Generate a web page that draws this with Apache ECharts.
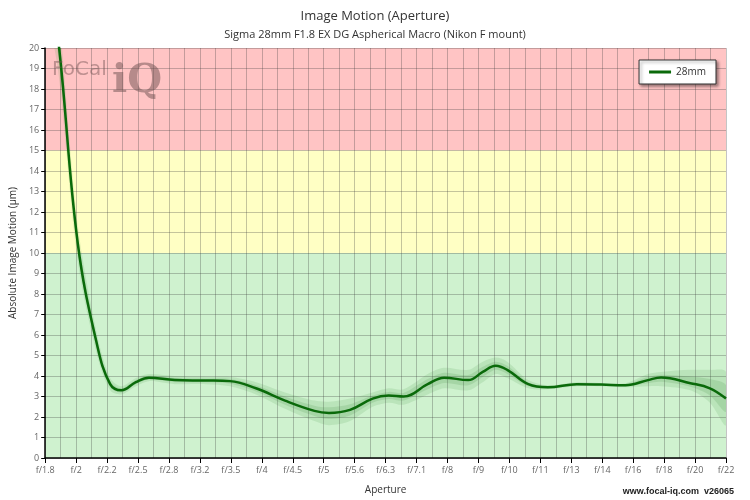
<!DOCTYPE html>
<html>
<head>
<meta charset="utf-8">
<script src="https://cdn.jsdelivr.net/npm/echarts@6/dist/echarts.min.js"></script>
<style>html,body{margin:0;padding:0;background:#fff}#chart{width:750px;height:500px}</style>
</head>
<body>
<div id="chart"></div>
<script>
var apertures = ["f/1.8","f/2","f/2.2","f/2.5","f/2.8","f/3.2","f/3.5","f/4","f/4.5","f/5","f/5.6","f/6.3","f/7.1","f/8","f/9","f/10","f/11","f/13","f/14","f/16","f/18","f/20","f/22"];
// positions along the aperture axis (0 = f/1.8) and measured motion
var pos    = [0,   0.45, 1.05, 1.68, 2.1, 2.46, 2.93, 3.35, 4.19, 5.19, 5.97, 6.81, 7.75, 8.7, 9.17, 9.85, 10.58, 11.1, 11.58, 12.36, 12.89, 13.67, 14.14, 14.56, 14.93, 15.61, 16.24, 17.18, 17.97, 18.75, 19.48, 19.9, 20.85, 21.48, 22];
var motion = [25,  20,   10.5, 5.5,  3.6, 3.3,  3.7,  3.92, 3.8,  3.78, 3.75, 3.4,  2.8,  2.3, 2.2,  2.35, 2.9,   3.05, 3.0,   3.6,   3.92,  3.8,   4.2,   4.5,   4.3,   3.6,   3.45,  3.6,   3.58,  3.55,  3.8,   3.93, 3.65,  3.4,   2.9];
var outerLow = [23, 18.5, 9.6, 5.0, 3.3, 3.1, 3.5, 3.75, 3.6, 3.6, 3.5, 3.1, 2.4, 1.8, 1.6, 1.8, 2.5, 2.7, 2.6, 3.1, 3.4, 3.3, 3.7, 4.1, 3.9, 3.4, 3.35, 3.5, 3.5, 3.45, 3.5, 3.5, 3.3, 2.7, 1.6];
var outerHigh = [27, 21.5, 11.4, 6.0, 3.9, 3.5, 3.9, 4.1, 4.0, 3.95, 3.95, 3.7, 3.2, 2.8, 2.75, 2.9, 3.2, 3.4, 3.35, 4.1, 4.4, 4.3, 4.7, 4.9, 4.7, 3.8, 3.55, 3.7, 3.65, 3.65, 4.1, 4.2, 4.3, 4.3, 4.2];
var yTicks = [0, 20, 1];

function pts(arr) { return pos.map(function (p, i) { return [p, arr[i]]; }); }
function mid(a, t) { return motion.map(function (v, i) { return v + (a[i] - v) * t; }); }

function bandSeries(low, high, color) {
	return {
		type: "custom", silent: true, z: 1, data: [0],
		renderItem: function (params, api) {
			var up = pos.map(function (p, i) { return api.coord([p, high[i]]); });
			var dn = pos.map(function (p, i) { return api.coord([p, low[i]]); }).reverse();
			return {
				type: "polygon",
				shape: { points: up.concat(dn), smooth: 0.3 },
				style: { fill: color },
				clipPath: { type: "rect", shape: { x: params.coordSys.x, y: params.coordSys.y, width: params.coordSys.width, height: params.coordSys.height } }
			};
		}
	};
}

var chart = echarts.init(document.getElementById("chart"));
var gridColor = "rgba(60,60,60,0.3)";
var option = {
	animation: false,
	textStyle: { fontFamily: "Open Sans" },
	title: [{
		text: "Image Motion (Aperture)",
		subtext: "Sigma 28mm F1.8 EX DG Aspherical Macro (Nikon F mount)",
		left: "center", top: 5, itemGap: 6,
		textStyle: { fontSize: 13, fontWeight: "normal", color: "#333" },
		subtextStyle: { fontSize: 11, color: "#333" }
	}],
	legend: {
		data: ["28mm"], right: 34, top: 60, orient: "vertical",
		backgroundColor: "#fff", borderColor: "#333", borderWidth: 1, padding: [7, 10],
		shadowColor: "rgba(0,0,0,0.4)", shadowBlur: 3, shadowOffsetX: 2, shadowOffsetY: 2,
		itemWidth: 22, itemHeight: 3, icon: "rect",
		textStyle: { fontSize: 10, color: "#333" }
	},
	grid: { left: 38, right: 24, top: 48, bottom: 38 },
	xAxis: {
		type: "value", min: 0, max: apertures.length - 1, interval: 1,
		name: "Aperture", nameLocation: "middle", nameGap: 27,
		nameTextStyle: { fontSize: 10, color: "#333" },
		axisLine: { lineStyle: { color: "#000", width: 1.5 } },
		axisTick: { show: true, length: 5, lineStyle: { color: "#000" } },
		axisLabel: { fontSize: 9, color: "#666", formatter: function (v) { return apertures[v] || ""; } },
		splitLine: { show: true, lineStyle: { color: gridColor } },
		minorTick: { show: false, splitNumber: 2 },
		minorSplitLine: { show: true, lineStyle: { color: gridColor } }
	},
	yAxis: {
		type: "value", min: yTicks[0], max: yTicks[1], interval: yTicks[2],
		name: "Absolute Image Motion (µm)", nameLocation: "middle", nameGap: 22,
		nameTextStyle: { fontSize: 10, color: "#333" },
		axisLine: { show: true, lineStyle: { color: "#000", width: 1.5 } },
		axisTick: { show: true, length: 4, lineStyle: { color: "#000" } },
		axisLabel: { fontSize: 9, color: "#666", margin: 6 },
		splitLine: { lineStyle: { color: gridColor } }
	},
	graphic: [
		{ type: "text", left: 52, top: 60, z: 10, style: { text: "FoCal", fontSize: 20, fill: "rgba(110,80,80,0.45)", fontFamily: "DejaVu Sans" } },
		{ type: "text", left: 112, top: 62, z: 10, style: { text: "iQ", fontSize: 40, fontWeight: "bold", fill: "rgba(110,80,80,0.5)", fontFamily: "DejaVu Serif" } },
		{ type: "text", right: 16, bottom: 4, z: 10, style: { text: "www.focal-iq.com  v26065", fontSize: 9, fontWeight: "bold", fill: "#222" } }
	],
	series: [
		{
			type: "line", silent: true, symbol: "none", data: [], z: -1, zlevel: 0,
			markArea: {
				silent: true, z: -1,
				data: [
					[{ yAxis: 15, itemStyle: { color: "#ffc4c4" } }, { yAxis: 20 }],
					[{ yAxis: 10, itemStyle: { color: "#ffffc4" } }, { yAxis: 15 }],
					[{ yAxis: 0, itemStyle: { color: "#cff2cf" } }, { yAxis: 10 }]
				]
			}
		},
		bandSeries(outerLow, outerHigh, "rgba(40,130,40,0.12)"),
		bandSeries(mid(outerLow, 0.5), mid(outerHigh, 0.5), "rgba(40,130,40,0.14)"),
		{
			name: "28mm", type: "line", data: pts(motion), symbol: "none", smooth: 0.4, z: 3,
			lineStyle: { color: "#0a6a0a", width: 2.5 }, itemStyle: { color: "#0a6a0a" }
		}
	]
};
chart.setOption(option);
</script>
</body>
</html>
